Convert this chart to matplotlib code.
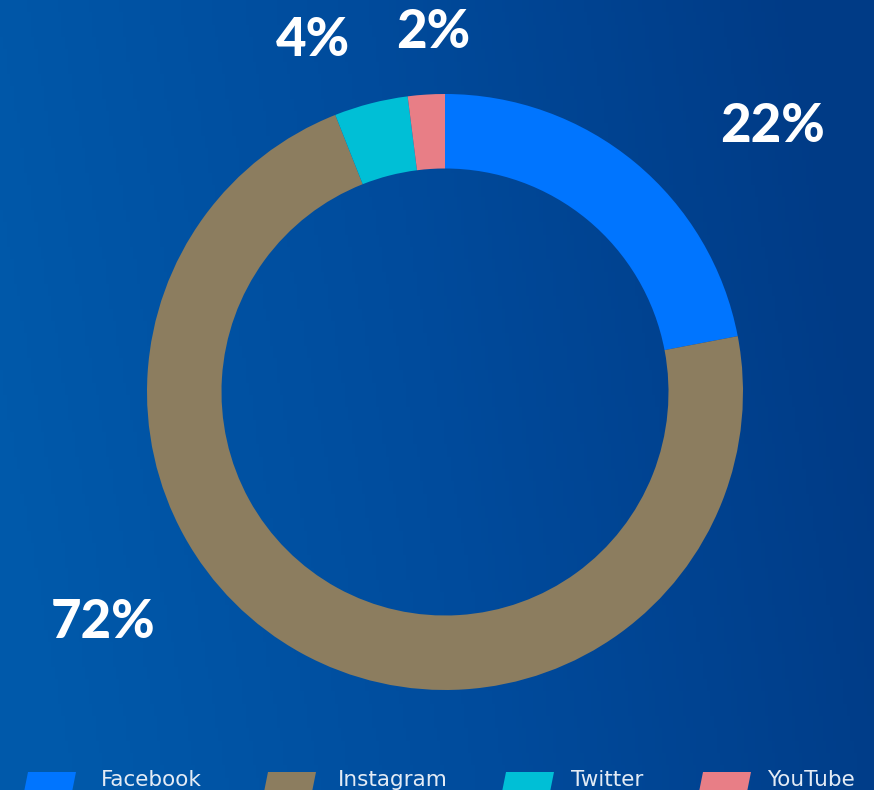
import numpy as np
import matplotlib
matplotlib.use("Agg")
import matplotlib.pyplot as plt
from matplotlib.colors import LinearSegmentedColormap
from matplotlib.patches import Polygon

# ── Data ─────────────────────────────────────────────────────────────────────
platforms = ["Facebook", "Instagram", "Twitter", "YouTube"]
shares    = [22, 72, 4, 2]
colors    = ["#0075ff", "#8c7d5f", "#00bfd6", "#e87e86"]
labels    = ["22%", "72%", "4%", "2%"]

# label anchor points in pixels (x, y from top)
label_pos = [(773, 126), (103, 622), (313, 40), (433, 32)]
legend_x  = [22, 262, 500, 697]
legend_tx = [101, 338, 571, 767]

W, H = 874, 790
fig = plt.figure(figsize=(W / 100, H / 100), dpi=100)

# ── Background gradient ──────────────────────────────────────────────────────
bg = fig.add_axes([0, 0, 1, 1])
bg.set_axis_off()
cmap = LinearSegmentedColormap.from_list("bg", ["#0059aa", "#004b9c", "#003b86"])
grad = np.linspace(0, 1, 256)[None, :] + np.linspace(0.08, -0.08, 64)[:, None]
bg.imshow(np.clip(grad, 0, 1), aspect="auto", cmap=cmap, extent=[0, 1, 0, 1])

# ── Donut ────────────────────────────────────────────────────────────────────
ax = fig.add_axes([0, 0, 1, 1])
ax.patch.set_alpha(0)

cx, cy, r = 445, H - 392, 298
ax.pie(shares, colors=colors, startangle=90, counterclock=False,
       center=(cx, cy), radius=r, frame=True,
       wedgeprops=dict(width=r * 0.25, linewidth=0))
ax.set_xlim(0, W)
ax.set_ylim(0, H)
ax.set_axis_off()

for lab, (x, y) in zip(labels, label_pos):
    ax.text(x, H - y, lab, color="white", fontsize=38, fontweight="black",
            family="Lato", ha="center", va="center")

# ── Legend ───────────────────────────────────────────────────────────────────
for name, col, x, tx in zip(platforms, colors, legend_x, legend_tx):
    top = H - 772
    poly = Polygon([(x + 6, top), (x + 54, top), (x + 49, top - 25), (x + 1, top - 25)],
                   closed=True, facecolor=col, edgecolor="none")
    ax.add_patch(poly)
    ax.text(tx, top + 2, name, color="#e3ebf5", fontsize=15.5,
            family="DejaVu Sans", ha="left", va="top")

fig.savefig("out.png", dpi=100)
